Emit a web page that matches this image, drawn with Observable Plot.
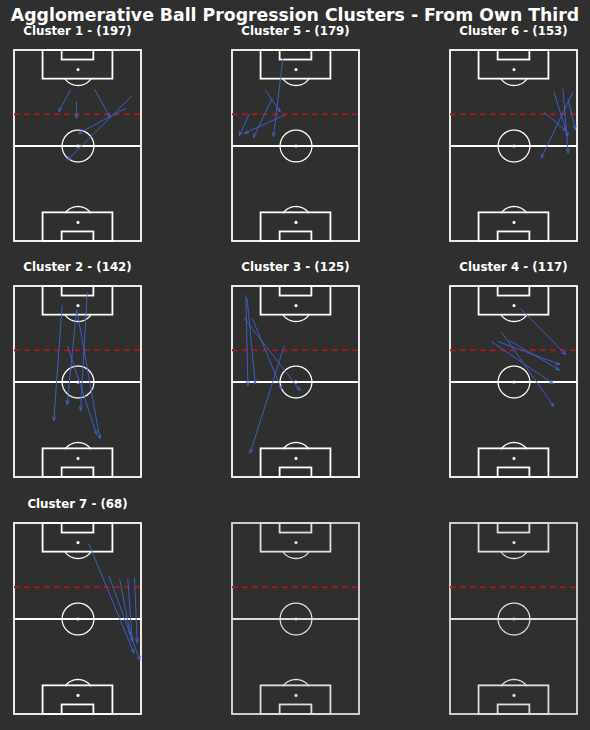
<!DOCTYPE html>
<html>
<head>
<meta charset="utf-8">
<script src="https://cdn.jsdelivr.net/npm/d3@7"></script>
<script src="https://cdn.jsdelivr.net/npm/@observablehq/plot@0.6"></script>
<style>
  html, body { margin: 0; padding: 0; background: #2f2f2f; }
  #root { position: relative; width: 590px; height: 730px; background: #2f2f2f; overflow: hidden;
          font-family: "DejaVu Sans", sans-serif; color: #fff; }
  .title { position: absolute; left: 0; width: 590px; top: 7px; text-align: center;
           font-weight: bold; font-size: 17.3px; line-height: 17px; white-space: nowrap; }
  .sub { position: absolute; width: 200px; text-align: center; font-weight: bold; font-size: 11.8px; line-height: 12px; }
  .panel { position: absolute; }
</style>
</head>
<body>
<div id="root"></div>
<script>
// ---- data ----
const chartTitle = "Agglomerative Ball Progression Clusters - From Own Third";
const clusterIds = [1, 5, 6, 2, 3, 4, 7];
const clusterCounts = [197, 179, 153, 142, 125, 117, 68];
// each arrow: [startAcross, startAlong, endAcross, endAlong] in pitch units (80 x 120), along measured from the top goal
const cluster1 = [[35.3,24.6,27.9,38.5],[39.1,32.2,39.1,42.5],[50.6,24.6,60.0,41.7],[69.9,36.4,40.5,52.0],[74.1,28.4,33.2,68.9]];
const cluster5 = [[31.7,5.3,25.8,54.1],[21.0,25.3,30.0,38.5],[24.8,30.5,13.2,54.7],[10.5,40.0,4.4,53.3],[32.8,40.6,7.6,52.0]];
const cluster6 = [[65.1,26.1,73.9,53.9],[70.8,24.0,74.1,64.4],[77.0,26.5,57.1,67.6],[58.8,38.7,73.1,50.7],[74.1,30.8,78.7,49.7]];
const cluster2 = [[30.0,11.9,24.8,84.2],[45.8,4.2,41.6,77.9],[39.1,14.7,33.2,74.1],[39.5,16.1,53.8,95.7],[33.6,37.7,51.7,93.0]];
const cluster3 = [[8.4,5.7,9.7,62.2],[9.2,7.5,14.3,61.1],[12.6,20.3,30.7,64.3],[7.4,19.9,42.6,65.3],[32.6,37.1,11.1,104.7]];
const cluster4 = [[44.3,14.0,72.5,42.7],[25.8,34.6,64.7,61.1],[32.1,28.7,65.1,75.4],[30.0,34.6,68.9,49.0],[37.0,33.9,68.5,52.4]];
const cluster7 = [[46.8,12.8,75.2,81.3],[59.4,32.8,79.0,85.9],[66.3,35.4,73.1,70.1],[71.4,34.9,74.1,73.9],[75.6,33.9,77.3,75.0]];
const clusterArrows = [cluster1, cluster5, cluster6, cluster2, cluster3, cluster4, cluster7];
const totalPanels = 9;
const ownThirdLine = 40;

// pitch geometry (StatsBomb 120 x 80)
const pitchLength = 120, pitchWidth = 80;
const pitchRects = [
  {x1: 0, x2: 80, y1: 0, y2: 120},
  {x1: 18, x2: 62, y1: 0, y2: 18},
  {x1: 18, x2: 62, y1: 102, y2: 120},
  {x1: 30, x2: 50, y1: 0, y2: 6},
  {x1: 30, x2: 50, y1: 114, y2: 120}
];
const spots = [{x: 40, y: 12}, {x: 40, y: 60}, {x: 40, y: 108}];
const circleRadius = 10;

// ---- layout ----
const colLeft = [14, 232, 450];
const rowTop = [50, 286, 523];
const pad = 3;
const pitchPxW = 127, pitchPxH = 191;

const root = document.getElementById("root");
const t = document.createElement("div");
t.className = "title"; t.textContent = chartTitle; root.appendChild(t);

const circlePts = d3.range(0, 361, 3).map(a => ({x: 40 + circleRadius * Math.cos(a * Math.PI / 180), y: 60 + circleRadius * Math.sin(a * Math.PI / 180)}));
const arcAngle = Math.acos(6 / 10) * 180 / Math.PI;
const topArc = d3.range(90 - arcAngle, 90 + arcAngle + 0.1, 2).map(a => ({x: 40 + 10 * Math.cos(a * Math.PI / 180), y: 12 + 10 * Math.sin(a * Math.PI / 180)}));
const botArc = d3.range(-90 - arcAngle, -90 + arcAngle + 0.1, 2).map(a => ({x: 40 + 10 * Math.cos(a * Math.PI / 180), y: 108 + 10 * Math.sin(a * Math.PI / 180)}));

for (let i = 0; i < totalPanels; i++) {
  const col = i % 3, row = Math.floor(i / 3);
  const has = i < clusterIds.length;
  const lineColor = has ? "#ffffff" : "#dedede";
  const arrows = has ? clusterArrows[i].map(([a, b, c, d]) => ({x1: a, y1: b, x2: c, y2: d})) : [];
  const plot = Plot.plot({
    width: pitchPxW + 2 * pad,
    height: pitchPxH + 2 * pad,
    margin: pad,
    x: {domain: [0, pitchWidth], axis: null},
    y: {domain: [0, pitchLength], axis: null, reverse: true},
    style: {background: "transparent", overflow: "visible"},
    marks: [
      Plot.rect(pitchRects, {x1: "x1", x2: "x2", y1: "y1", y2: "y2", fill: "none", stroke: lineColor, strokeWidth: 1.8}),
      Plot.ruleY([60], {x1: 0, x2: 80, stroke: lineColor, strokeWidth: 1.8}),
      Plot.line(circlePts, {x: "x", y: "y", stroke: lineColor, strokeWidth: 1.3}),
      Plot.line(topArc, {x: "x", y: "y", stroke: lineColor, strokeWidth: 1.3}),
      Plot.line(botArc, {x: "x", y: "y", stroke: lineColor, strokeWidth: 1.3}),
      Plot.dot(spots, {x: "x", y: "y", r: 1.6, fill: lineColor, stroke: "none"}),
      Plot.ruleY([ownThirdLine], {x1: 0, x2: 80, stroke: "#a01c1c", strokeWidth: 2, strokeDasharray: "5.5,4.5"}),
      Plot.arrow(arrows, {x1: "x1", y1: "y1", x2: "x2", y2: "y2", stroke: "#3f63cc", strokeWidth: 1, strokeOpacity: 0.9, headLength: 6, headAngle: 45})
    ]
  });
  const wrap = document.createElement("div");
  wrap.className = "panel";
  wrap.style.left = (colLeft[col] - pad) + "px";
  wrap.style.top = (rowTop[row] - pad) + "px";
  wrap.appendChild(plot);
  root.appendChild(wrap);
  if (has) {
    const s = document.createElement("div");
    s.className = "sub";
    s.style.left = (colLeft[col] + pitchPxW / 2 - 100) + "px";
    s.style.top = (rowTop[row] - 25) + "px";
    s.textContent = "Cluster " + clusterIds[i] + " - (" + clusterCounts[i] + ")";
    root.appendChild(s);
  }
}
</script>
</body>
</html>
